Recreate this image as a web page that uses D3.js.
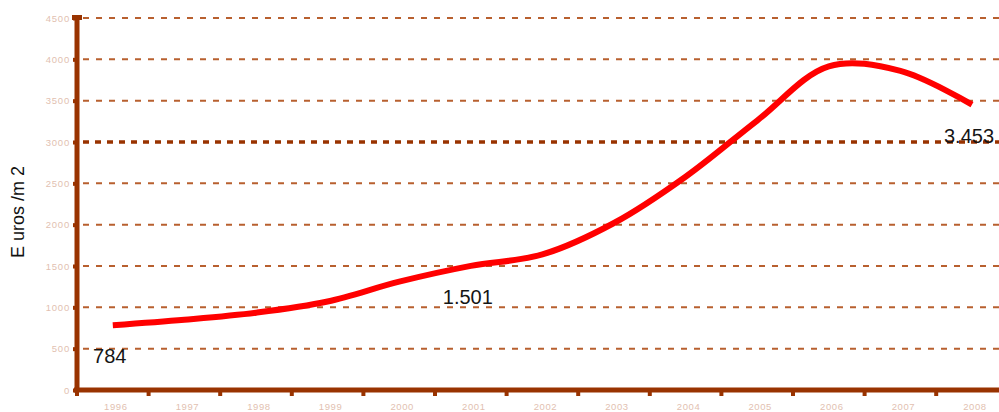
<!DOCTYPE html>
<html>
<head>
<meta charset="utf-8">
<script src="https://cdn.jsdelivr.net/npm/d3@7"></script>
<style>
  html, body { margin: 0; padding: 0; background: #ffffff; }
  svg { display: block; }
</style>
</head>
<body>
<svg id="chart" width="999" height="412"></svg>
<script>
// Average housing price per square metre, 1996–2008
const years = ["1996", "1997", "1998", "1999", "2000", "2001", "2002",
               "2003", "2004", "2005", "2006", "2007", "2008"];
const pricePerM2 = [784, 850, 935, 1070, 1310, 1501, 1640,
                    2020, 2580, 3260, 3915, 3860, 3453];
const yTicks = [0, 500, 1000, 1500, 2000, 2500, 3000, 3500, 4000, 4500];
// points that carry a value label
const labelled = ["1996", "2001", "2008"];
const yTitle = "E uros /m 2";

const svg = d3.select("#chart");
const axisColor = "#993300";
const gridColor = "#b8602f";
const tickTextColor = "#e2bfb1";
const font = "'Liberation Sans', Arial, sans-serif";

const x = d3.scaleBand().domain(years).range([77, 77 + 13 * 71.6]).padding(0);
const y = d3.scaleLinear().domain([0, 4500]).range([390, 18]);

// horizontal gridlines (3000 drawn heavier and dotted)
svg.append("g").selectAll("line")
  .data(yTicks.filter(d => d > 0))
  .join("line")
  .attr("x1", 83).attr("x2", 999)
  .attr("y1", d => y(d)).attr("y2", d => y(d))
  .attr("stroke", d => d === 3000 ? axisColor : gridColor)
  .attr("stroke-width", d => d === 3000 ? 3.5 : 2)
  .attr("stroke-dasharray", d => d === 3000 ? "6,6" : "6,7");

// y axis
const yAxis = d3.axisLeft(y).tickValues(yTicks).tickSize(4).tickPadding(3)
  .tickFormat(d3.format("d"));
const gy = svg.append("g").attr("transform", "translate(77,0)").call(yAxis);
gy.select(".domain").attr("stroke", axisColor).attr("stroke-width", 5)
  .attr("d", `M0,${y(4500) - 2}V${y(0)}`);
gy.selectAll(".tick line").attr("stroke", axisColor).attr("stroke-width", 4);
gy.selectAll(".tick text")
  .attr("fill", tickTextColor)
  .style("font-family", font)
  .style("font-size", "9.5px")
  .style("letter-spacing", "0.8px");
// cap at top of the y axis
svg.append("rect").attr("x", 72).attr("y", y(4500) - 3)
  .attr("width", 10).attr("height", 5).attr("fill", axisColor);

// x axis: ticks at category boundaries, labels at category centres
const gx = svg.append("g").attr("transform", `translate(0,${y(0)})`);
gx.append("line").attr("x1", 74).attr("x2", 999)
  .attr("y1", 0).attr("y2", 0)
  .attr("stroke", axisColor).attr("stroke-width", 5);
gx.selectAll("line.bt")
  .data(years.map(d => x(d)).concat([x(years[12]) + x.bandwidth()]))
  .join("line").attr("class", "bt")
  .attr("x1", d => d).attr("x2", d => d)
  .attr("y1", 0).attr("y2", 6)
  .attr("stroke", axisColor).attr("stroke-width", 4);
gx.selectAll("text")
  .data(years)
  .join("text")
  .attr("x", d => x(d) + x.bandwidth() / 2 + 3)
  .attr("y", 20)
  .attr("text-anchor", "middle")
  .attr("fill", tickTextColor)
  .style("font-family", font)
  .style("font-size", "9.5px")
  .style("letter-spacing", "0.6px")
  .text(d => d);

// y axis title
svg.append("text")
  .attr("transform", `translate(24,212) rotate(-90)`)
  .attr("text-anchor", "middle")
  .attr("fill", "#111")
  .style("font-family", font)
  .style("font-size", "18px")
  .text(yTitle);

// price line
const pts = years.map((yr, i) => ({ yr, v: pricePerM2[i] }));
const line = d3.line()
  .x(d => x(d.yr) + x.bandwidth() / 2)
  .y(d => y(d.v))
  .curve(d3.curveCatmullRom);
svg.append("path")
  .datum(pts)
  .attr("d", line)
  .attr("fill", "none")
  .attr("stroke", "#ff0000")
  .attr("stroke-width", 6)
  .attr("stroke-linejoin", "round");

// value labels
const fmt = v => v >= 1000 ? d3.format(",")(v).replace(",", ".") : String(v);
svg.append("g").selectAll("text")
  .data(pts.filter(d => labelled.includes(d.yr)))
  .join("text")
  .attr("x", d => x(d.yr) + x.bandwidth() / 2 - 3)
  .attr("y", d => y(d.v) + 38)
  .attr("text-anchor", "middle")
  .attr("fill", "#151515")
  .style("font-family", font)
  .style("font-size", "20px")
  .text(d => fmt(d.v));
</script>
</body>
</html>
